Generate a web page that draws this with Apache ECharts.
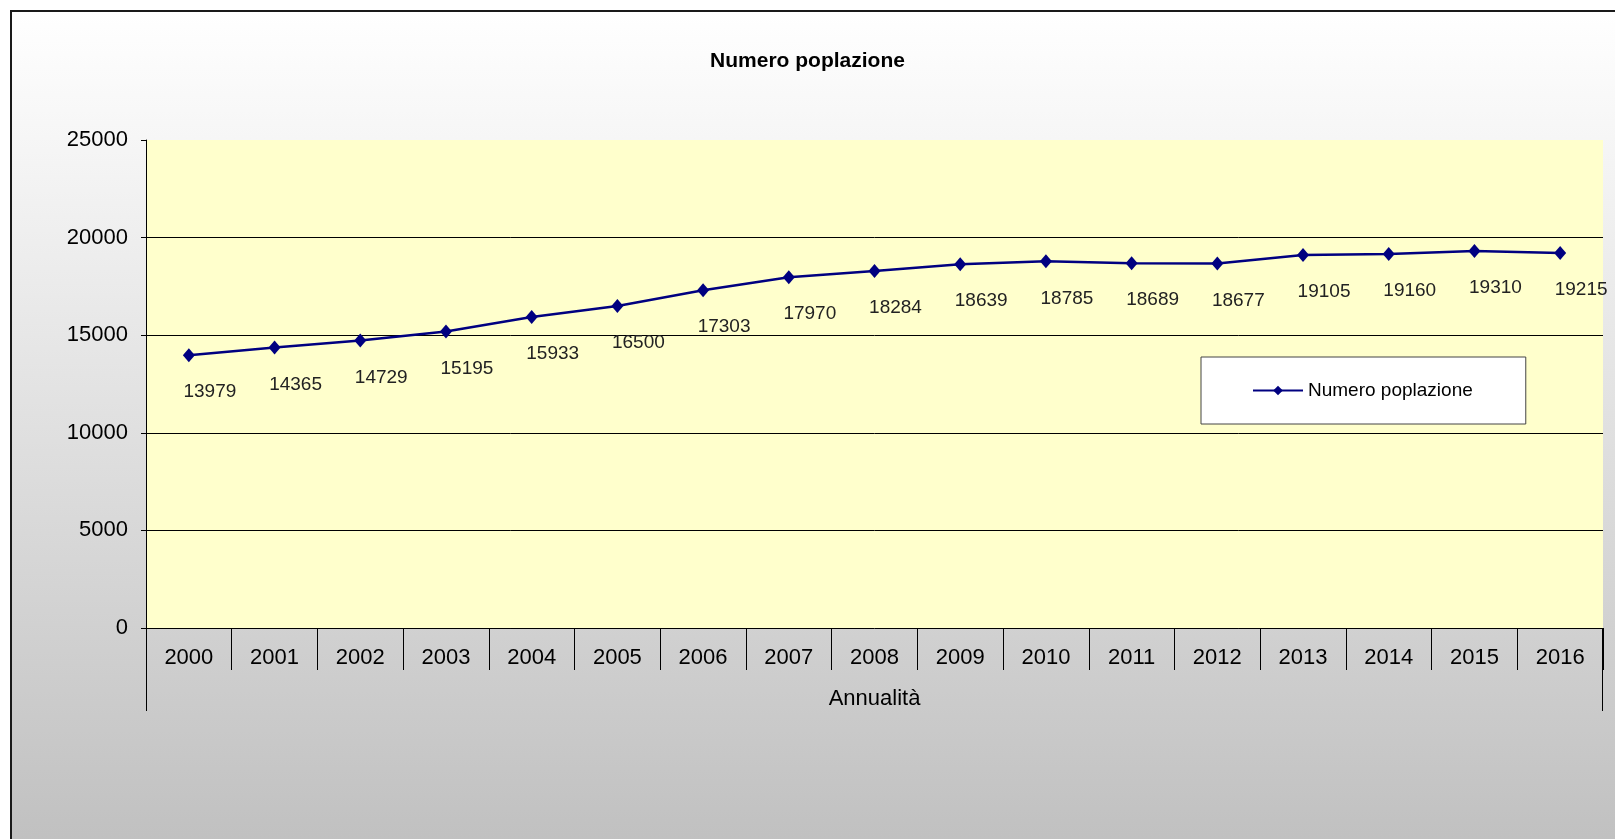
<!DOCTYPE html>
<html>
<head>
<meta charset="utf-8">
<script src="https://cdn.jsdelivr.net/npm/echarts@6.0.0/dist/echarts.min.js"></script>
<style>
  html, body { margin: 0; padding: 0; background: #ffffff; }
  #frame {
    position: absolute; left: 10px; top: 10px; width: 1620px; height: 840px;
    border: 2px solid #1a1a1a; box-sizing: border-box;
    background: linear-gradient(to bottom, #ffffff 0%, #f6f6f6 15%, #c0c0c0 100%);
  }
  #chart { position: absolute; left: 0; top: 0; width: 1615px; height: 839px; }
</style>
</head>
<body>
<div id="frame"></div>
<div id="chart"></div>
<script>
const categories = ['2000','2001','2002','2003','2004','2005','2006','2007','2008','2009','2010','2011','2012','2013','2014','2015','2016'];
const popolazione = [13979, 14365, 14729, 15195, 15933, 16500, 17303, 17970, 18284, 18639, 18785, 18689, 18677, 19105, 19160, 19310, 19215];
const seriesName = 'Numero poplazione';
const chartTitle = 'Numero poplazione';
const xAxisName = 'Annualità';

const gridLeft = 146, gridTop = 140, gridRight = 12, gridBottom = 211;
const W = 1615, H = 839;
const axisY = H - gridBottom;
const font = '"Liberation Sans", Arial, sans-serif';

const chart = echarts.init(document.getElementById('chart'), null, { renderer: 'canvas' });
chart.setOption({
  backgroundColor: 'transparent',
  animation: false,
  textStyle: { fontFamily: font },
  title: {
    text: chartTitle,
    left: 'center',
    top: 46,
    textStyle: { fontFamily: font, fontSize: 21, fontWeight: 'bold', color: '#000' }
  },
  grid: {
    left: gridLeft, top: gridTop, right: gridRight, bottom: gridBottom,
    show: true, backgroundColor: '#FFFFCC', borderWidth: 0, containLabel: false
  },
  legend: {
    left: 1201, top: 357,
    backgroundColor: '#ffffff', borderColor: '#444', borderWidth: 1,
    padding: [24, 53, 24, 51],
    itemWidth: 50, itemHeight: 12,
    textStyle: { fontFamily: font, fontSize: 19, color: '#000' },
    data: [seriesName]
  },
  xAxis: {
    type: 'category',
    data: categories,
    boundaryGap: true,
    name: xAxisName,
    nameLocation: 'middle',
    nameGap: 60,
    nameTextStyle: { fontFamily: font, fontSize: 22, color: '#000' },
    axisLine: { show: true, lineStyle: { color: '#000', width: 1 } },
    axisTick: { show: true, interval: 0, inside: false, length: 42, lineStyle: { color: '#000', width: 1 } },
    axisLabel: { interval: 0, margin: 19, fontFamily: font, fontSize: 22, color: '#000' },
    splitLine: { show: false }
  },
  yAxis: {
    type: 'value',
    min: 0, max: 25000, interval: 5000,
    axisLine: { show: true, lineStyle: { color: '#000', width: 1 } },
    axisTick: { show: true, length: 5, lineStyle: { color: '#000', width: 1 } },
    axisLabel: { margin: 18, fontFamily: font, fontSize: 22, color: '#000', formatter: function (v) { return String(v); } },
    splitLine: { show: true, showMinLine: false, showMaxLine: false, lineStyle: { color: '#000', width: 1 } }
  },
  series: [{
    name: seriesName,
    type: 'line',
    data: popolazione,
    symbol: 'diamond',
    symbolSize: [12, 14],
    lineStyle: { color: '#000080', width: 2.5 },
    itemStyle: { color: '#000080' },
    label: {
      show: true,
      position: 'inside',
      offset: [21, 37],
      fontFamily: font,
      fontSize: 19,
      color: '#222'
    }
  }],
  graphic: [
    { type: 'line', shape: { x1: gridLeft + 0.5, y1: axisY, x2: gridLeft + 0.5, y2: axisY + 83 }, style: { stroke: '#000', lineWidth: 1 } },
    { type: 'line', shape: { x1: W - gridRight - 0.5, y1: axisY, x2: W - gridRight - 0.5, y2: axisY + 83 }, style: { stroke: '#000', lineWidth: 1 } }
  ]
});
</script>
</body>
</html>
